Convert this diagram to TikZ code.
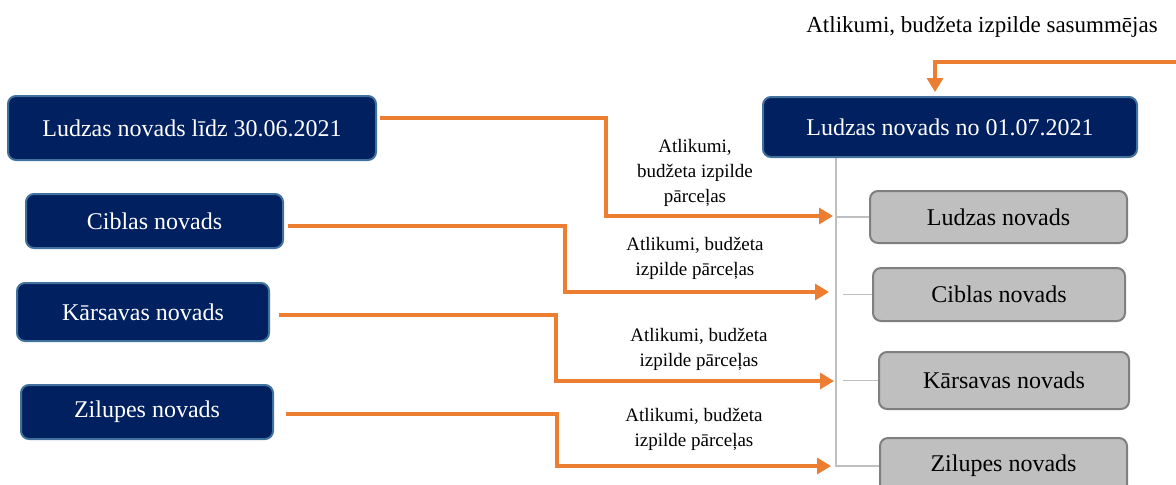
\documentclass[tikz,border=0pt]{standalone}
\usepackage{fontspec}
\setmainfont{Liberation Serif}
\usetikzlibrary{arrows.meta,calc}

\definecolor{navybox}{RGB}{0,32,96}
\definecolor{navyedge}{RGB}{65,113,156}
\definecolor{greybox}{RGB}{191,191,191}
\definecolor{greyedge}{RGB}{127,127,127}
\definecolor{flowline}{RGB}{237,125,49}
\definecolor{treeline}{RGB}{191,191,191}

\begin{document}
\begin{tikzpicture}[x=0.5pt, y=-0.5pt,
    oldbox/.style={draw=navyedge, line width=1pt, fill=navybox, text=white,
        rounded corners=4pt, inner sep=0pt, font=\fontsize{12}{14}\selectfont},
    newbox/.style={draw=greyedge, line width=1pt, fill=greybox, text=black,
        rounded corners=4pt, inner sep=0pt, font=\fontsize{12}{14}\selectfont},
    flow/.style={draw=flowline, line width=1.6pt, -{Triangle[length=7pt,width=8pt]}},
    tree/.style={draw=treeline, line width=0.8pt},
    note/.style={align=center, font=\fontsize{9.5}{12.5}\selectfont}]

    \useasboundingbox (0,0) rectangle (1176,484);

    % === Novadi līdz reformai ===
    \node[oldbox, minimum width=184pt, minimum height=32pt] (l1) at (192,128) {Ludzas novads līdz 30.06.2021};
    \node[oldbox, minimum width=128.5pt, minimum height=27pt] (l2) at (154.5,221) {Ciblas novads};
    \node[oldbox, minimum width=126pt, minimum height=29pt] (l3) at (143,312) {Kārsavas novads};
    \node[oldbox, minimum width=126pt, minimum height=27pt] (l4) at (147,412) {Zilupes novads};

    % === Jaunais novads ===
    \node[oldbox, minimum width=187pt, minimum height=30pt] (rt) at (950,127) {Ludzas novads no 01.07.2021};
    \node[newbox, minimum width=128.5pt, minimum height=26pt] (g1) at (998.5,217) {Ludzas novads};
    \node[newbox, minimum width=126pt, minimum height=26.5pt] (g2) at (999,294.5) {Ciblas novads};
    \node[newbox, minimum width=125pt, minimum height=28.5pt] (g3) at (1004,380.5) {Kārsavas novads};
    \node[newbox, minimum width=123.5pt, minimum height=28pt] (g4) at (1003.5,466) {Zilupes novads};

    % Koka līnijas
    \coordinate (trunk) at (836,0);
    \draw[tree] (rt.south -| trunk) |- (g4.west);
    \draw[tree] (g1.west -| trunk) -- (g1.west);
    \draw[tree] ($(g2.west -| trunk)+(7,0)$) -- (g2.west);
    \draw[tree] ($(g3.west -| trunk)+(7,0)$) -- (g3.west);

    % Bultu gali
    \coordinate (t1) at (833,216);
    \coordinate (t2) at (829,292);
    \coordinate (t3) at (834,381);
    \coordinate (t4) at (831,466);
    \coordinate (top) at (1176,62);

    % Pārceļas
    \draw[flow] ($(l1.east)+(3,-10)$) -| (606,216) -- (t1);
    \draw[flow] ($(l2.east)+(4,5)$) -| (565,292) -- (t2);
    \draw[flow] ($(l3.east)+(9,3)$) -| (556,381) -- (t3);
    \draw[flow] ($(l4.east)+(12,2)$) -| (557,466) -- (t4);

    % Sasummējas
    \draw[flow] (top) -| ($(rt.north)+(-15,-4)$);

    % Labels
    \node[note] (n1) at (695,173) {Atlikumi,\\budžeta izpilde\\pārceļas};
    \node[note] (n2) at (695,258) {Atlikumi, budžeta\\izpilde pārceļas};
    \node[note] (n3) at (699,349) {Atlikumi, budžeta\\izpilde pārceļas};
    \node[note] (n4) at (694,429) {Atlikumi, budžeta\\izpilde pārceļas};
    \node[font=\fontsize{11.5}{14}\selectfont] (n5) at (982,27) {Atlikumi, budžeta izpilde sasummējas};

\end{tikzpicture}
\end{document}
